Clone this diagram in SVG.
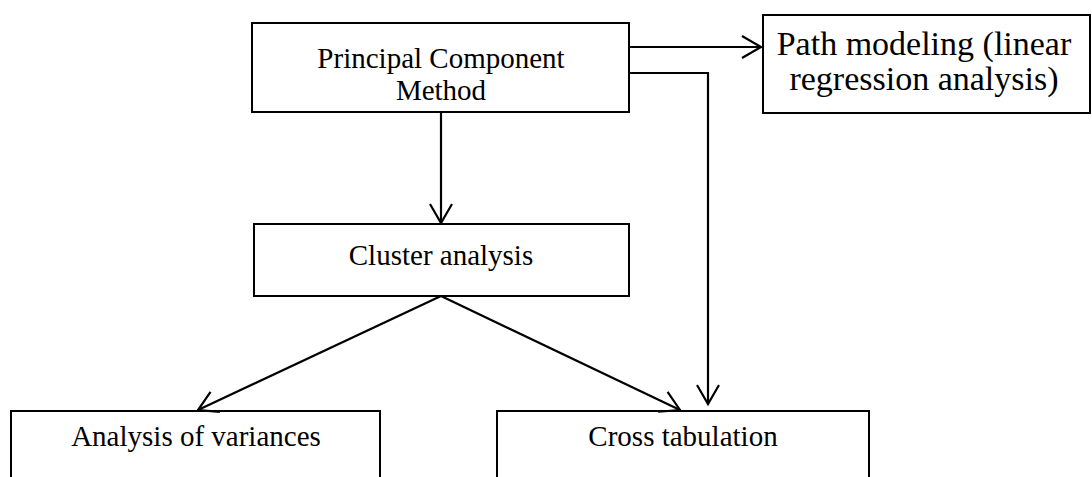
<svg xmlns="http://www.w3.org/2000/svg" width="1092" height="477" viewBox="0 0 1092 477">
<style>
.box{fill:#fff;stroke:#000;stroke-width:2}
.t{font-family:"Liberation Serif","Times New Roman",serif;font-size:29px;fill:#000;text-anchor:middle}
.tb{font-size:34px}
.c{fill:none;stroke:#000;stroke-width:2.2}
</style>
<defs>
<marker id="ah" markerWidth="24" markerHeight="26" refX="20" refY="12" orient="auto" markerUnits="userSpaceOnUse">
<path d="M1,1 L20,12 L1,23" fill="none" stroke="#000" stroke-width="2.2"/>
</marker>
</defs>
<rect width="1092" height="477" fill="#fff"/>
<g id="n-pcm">
<rect class="box" x="252" y="23" width="377" height="89"/>
<text class="t" x="441" y="68">Principal Component</text>
<text class="t" x="441" y="100">Method</text>
</g>
<g id="n-path">
<rect class="box" x="763" y="15" width="327" height="98"/>
<text class="t tb" x="924" y="55">Path modeling (linear</text>
<text class="t tb" x="924" y="90">regression analysis)</text>
</g>
<g id="n-cluster">
<rect class="box" x="254" y="224" width="375" height="72"/>
<text class="t" x="441" y="265">Cluster analysis</text>
</g>
<g id="n-anova">
<rect class="box" x="11" y="411" width="369" height="80"/>
<text class="t" x="196" y="446">Analysis of variances</text>
</g>
<g id="n-cross">
<rect class="box" x="497" y="411" width="372" height="80"/>
<text class="t" x="683" y="446">Cross tabulation</text>
</g>
<g id="connectors">
<path class="c" d="M629,47 L761,47" marker-end="url(#ah)"/>
<path class="c" d="M629,73 L708,73 L708,404" marker-end="url(#ah)"/>
<path class="c" d="M441,112 L441,223" marker-end="url(#ah)"/>
<path class="c" d="M441,296 L198,410" marker-end="url(#ah)"/>
<path class="c" d="M441,296 L680,410" marker-end="url(#ah)"/>
</g>
</svg>
